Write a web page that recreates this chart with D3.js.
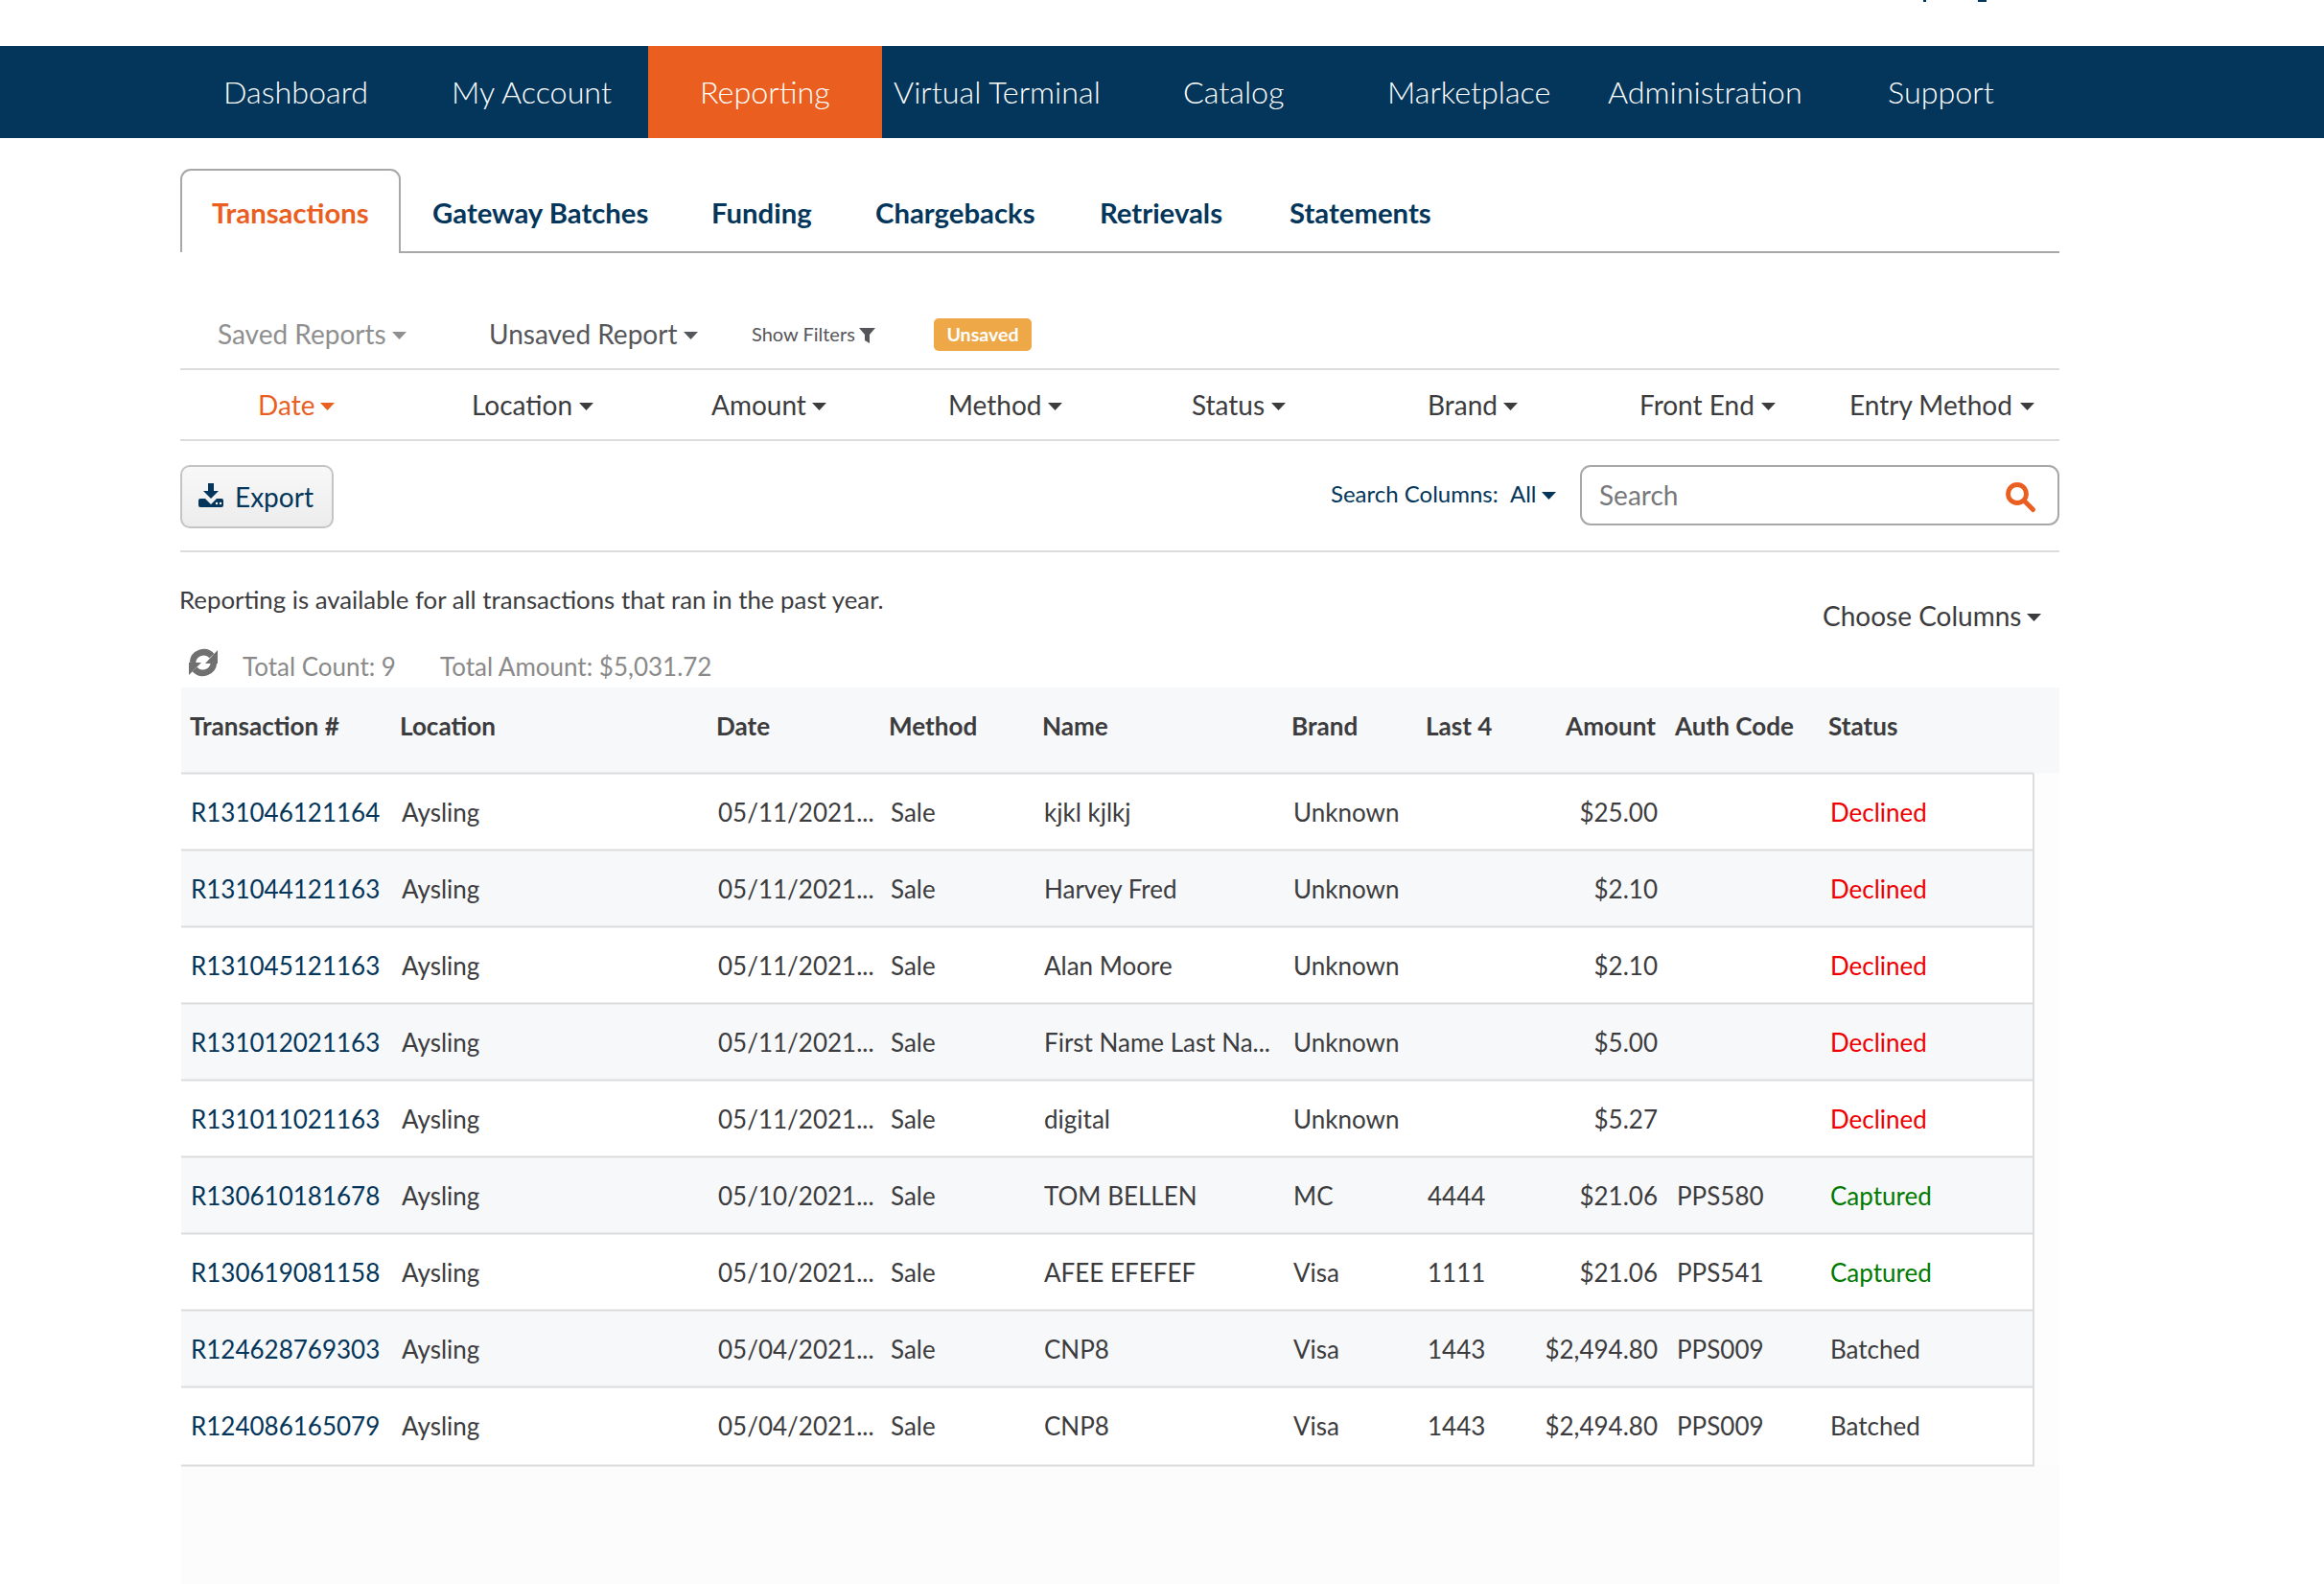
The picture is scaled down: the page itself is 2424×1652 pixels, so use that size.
<!DOCTYPE html>
<html>
<head>
<meta charset="utf-8">
<script src="https://d3js.org/d3.v7.min.js"></script>
<style>
  html, body { margin: 0; padding: 0; background: #fff; }
  svg { display: block; }
  text { font-family: Lato, "Open Sans", sans-serif; }
</style>
</head>
<body>
<div id="page"></div>
<script>
// menu + filter labels
const navItems = ["Dashboard", "My Account", "Reporting", "Virtual Terminal", "Catalog", "Marketplace", "Administration", "Support"];
const tabItems = ["Transactions", "Gateway Batches", "Funding", "Chargebacks", "Retrievals", "Statements"];
const filterItems = ["Date", "Location", "Amount", "Method", "Status", "Brand", "Front End", "Entry Method"];

// table
const columns = ["Transaction #", "Location", "Date", "Method", "Name", "Brand", "Last 4", "Amount", "Auth Code", "Status"];
const transactionIds = ["R131046121164", "R131044121163", "R131045121163", "R131012021163", "R131011021163", "R130610181678", "R130619081158", "R124628769303", "R124086165079"];
const locations = ["Aysling", "Aysling", "Aysling", "Aysling", "Aysling", "Aysling", "Aysling", "Aysling", "Aysling"];
const dates = ["05/11/2021...", "05/11/2021...", "05/11/2021...", "05/11/2021...", "05/11/2021...", "05/10/2021...", "05/10/2021...", "05/04/2021...", "05/04/2021..."];
const methods = ["Sale", "Sale", "Sale", "Sale", "Sale", "Sale", "Sale", "Sale", "Sale"];
const names = ["kjkl kjlkj", "Harvey Fred", "Alan Moore", "First Name Last Na...", "digital", "TOM BELLEN", "AFEE EFEFEF", "CNP8", "CNP8"];
const brands = ["Unknown", "Unknown", "Unknown", "Unknown", "Unknown", "MC", "Visa", "Visa", "Visa"];
const lastFour = ["", "", "", "", "", "4444", "1111", "1443", "1443"];
const amounts = [25.00, 2.10, 2.10, 5.00, 5.27, 21.06, 21.06, 2494.80, 2494.80];
const authCodes = ["", "", "", "", "", "PPS580", "PPS541", "PPS009", "PPS009"];
const statuses = ["Declined", "Declined", "Declined", "Declined", "Declined", "Captured", "Captured", "Batched", "Batched"];

const W = 2424, H = 1652;
const navy = "#03365a", orange = "#ea5f1f", ink = "#3c3c3e", rule = "#dcdcdc";
const statusColor = d3.scaleOrdinal(["Declined", "Captured", "Batched"], ["#f00000", "#007a00", ink]);
const fmtAmount = d3.format("$,.2f");

const svg = d3.select("#page").append("svg").attr("width", W).attr("height", H);

function label(x, y, str, size, fill, opts = {}) {
    return svg.append("text")
        .attr("x", x).attr("y", y).attr("dy", "0.35em")
        .attr("font-size", size)
        .attr("font-weight", opts.weight || 400)
        .attr("text-anchor", opts.anchor || "start")
        .attr("fill", fill)
        .text(str);
}
function rect(x, y, w, h, fill) {
    return svg.append("rect").attr("x", x).attr("y", y).attr("width", w).attr("height", h).attr("fill", fill);
}
function caret(x, y, fill) {
    svg.append("path").attr("d", `M${x},${y - 4}h15l-7.5,8z`).attr("fill", fill);
}

// bits of the cut-off line above the nav bar
rect(2006, 0, 3, 2, navy);
rect(2063, 0, 9, 2, navy);

// nav bar
rect(0, 48, W, 96, navy);
const navX = d3.scaleOrdinal(navItems, [233, 471, 730, 932, 1234, 1447, 1677, 1969]);
rect(676, 48, 244, 96, orange);
navItems.forEach(d => label(navX(d), 96.8, d, 32.3, "#fff", { weight: 300 }));

// tabs
const tabX = d3.scaleOrdinal(tabItems, [221, 451, 742, 913, 1147, 1345]);
svg.append("path")
    .attr("d", "M189,263V187a10,10 0 0 1 10,-10H407a10,10 0 0 1 10,10V263H2148")
    .attr("fill", "none").attr("stroke", "#a8a8a8").attr("stroke-width", 2);
tabItems.forEach((d, i) => label(tabX(d), 222.3, d, 29.3, i === 0 ? orange : navy, { weight: 700 }));

// report toolbar
label(227, 349, "Saved Reports", 28, "#8f8f8f");
caret(409, 350, "#8f8f8f");
label(510, 349, "Unsaved Report", 28, "#55565a");
caret(713, 350, "#55565a");
label(784, 349, "Show Filters", 20, "#55565a");
svg.append("path").attr("d", "M896,342h17l-6,7v9l-5,-3v-6z").attr("fill", "#55565a");
rect(974, 332, 102, 34, "#eea847").attr("rx", 5);
label(1025, 349, "Unsaved", 19.6, "#fff", { weight: 700, anchor: "middle" });

rect(188, 384, 1960, 2, rule);

// filter row
const filterX = d3.scaleOrdinal(filterItems, [269, 492, 742, 989, 1243, 1489, 1710, 1929]);
const filterCaret = d3.scaleOrdinal(filterItems, [334, 604, 847, 1093, 1326, 1568, 1837, 2107]);
filterItems.forEach((d, i) => {
    const c = i === 0 ? orange : ink;
    label(filterX(d), 423.5, d, 28, c);
    caret(filterCaret(d), 424, c);
});
rect(188, 458, 1960, 2, rule);

// export button
const grad = svg.append("defs").append("linearGradient").attr("id", "btn").attr("x2", 0).attr("y2", 1);
grad.append("stop").attr("offset", 0).attr("stop-color", "#f8f8f8");
grad.append("stop").attr("offset", 1).attr("stop-color", "#ececec");
rect(189, 486, 158, 64, "url(#btn)").attr("rx", 9).attr("stroke", "#c4c4c4").attr("stroke-width", 2);
svg.append("path")
    .attr("d", "M217,504h6v8h5l-8,8l-8,-8h5z M207,522q0,-2 2,-2h5l6,6l6,-6h5q2,0 2,2v5q0,2 -2,2h-22q-2,0 -2,-2z")
    .attr("fill", navy);
svg.selectAll("circle.dot").data([226, 230]).enter().append("circle")
    .attr("class", "dot").attr("cx", d => d).attr("cy", 525).attr("r", 1.2).attr("fill", "#fff");
label(245, 519.5, "Export", 28, navy);

// search
label(1388, 516, "Search Columns:", 24, navy);
label(1575, 516, "All", 24, navy);
caret(1608, 517, navy);
rect(1649, 486, 498, 61, "#fff").attr("rx", 10).attr("stroke", "#a8a8a8").attr("stroke-width", 2);
label(1668, 517, "Search", 28, "#77787c");
svg.append("circle").attr("cx", 2104).attr("cy", 515).attr("r", 9.5).attr("fill", "none").attr("stroke", orange).attr("stroke-width", 4.8);
svg.append("path").attr("d", "M2112.5,523.5l8,8").attr("stroke", orange).attr("stroke-width", 5).attr("stroke-linecap", "round");

rect(188, 574, 1960, 2, rule);

label(187, 626, "Reporting is available for all transactions that ran in the past year.", 25.8, ink);
label(1901, 643.5, "Choose Columns", 28, ink);
caret(2114, 644, ink);

// totals
svg.append("path")
    .attr("d", "M201,691A11.5,11.5 0 0 1 221,684").attr("fill", "none").attr("stroke", "#707070").attr("stroke-width", 6.5);
svg.append("path")
    .attr("d", "M223,691A11.5,11.5 0 0 1 203,698").attr("fill", "none").attr("stroke", "#707070").attr("stroke-width", 6.5);
svg.append("path").attr("d", "M227,678V692H214z M197,704V691H210z").attr("fill", "#707070");
label(253, 696, "Total Count: 9", 26, "#8a8a8a");
label(459, 696, "Total Amount: $5,031.72", 26, "#8a8a8a");

// table
const tableLeft = 189, tableRight = 2121, panelRight = 2148;
const headTop = 717, headBottom = 806.5, tableBottom = 1526.5;
const rowIdx = d3.range(transactionIds.length);
const rowY = d3.scaleBand(rowIdx, [headBottom, tableBottom]);
const colHead = d3.scaleOrdinal(columns, [198, 417, 747, 927, 1087, 1347, 1487, 1727, 1747, 1907]);
const colBody = d3.scaleOrdinal(columns, [199, 419, 749, 929, 1089, 1349, 1489, 1729, 1749, 1909]);
// last row sits 2px lower in the reference
const lastRowExtra = i => i === rowIdx.length - 1 ? 2 : 0;

rect(tableLeft, headTop, panelRight - tableLeft, headBottom - headTop, "#f7f8fa");
rect(tableRight, headBottom, panelRight - tableRight, 846, "#fdfdfd");
rect(tableLeft, tableBottom + 2, panelRight - tableLeft, 124, "#fcfcfc");

columns.forEach(c => label(colHead(c), 757.5, c, 26.1, ink, { weight: 700, anchor: c === "Amount" ? "end" : "start" }));

svg.selectAll("rect.row").data(rowIdx).enter().append("rect")
    .attr("class", "row")
    .attr("x", tableLeft)
    .attr("y", i => rowY(i))
    .attr("width", tableRight - tableLeft)
    .attr("height", i => rowY.bandwidth() + lastRowExtra(i))
    .attr("fill", i => i % 2 ? "#f7f8fa" : "#fff");
rect(tableLeft, headBottom - 1, tableRight - tableLeft, 2, rule);
svg.selectAll("rect.rowline").data(rowIdx).enter().append("rect")
    .attr("class", "rowline")
    .attr("x", tableLeft)
    .attr("y", i => rowY(i) + rowY.bandwidth() - 1 + lastRowExtra(i))
    .attr("width", tableRight - tableLeft)
    .attr("height", 2)
    .attr("fill", rule);
rect(tableRight - 1, headBottom, 2, tableBottom - headBottom + 3, rule);

const bodyValues = {
    "Transaction #": i => transactionIds[i],
    "Location": i => locations[i],
    "Date": i => dates[i],
    "Method": i => methods[i],
    "Name": i => names[i],
    "Brand": i => brands[i],
    "Last 4": i => lastFour[i],
    "Amount": i => fmtAmount(amounts[i]),
    "Auth Code": i => authCodes[i],
    "Status": i => statuses[i]
};
rowIdx.forEach(i => {
    const y = rowY(i) + rowY.bandwidth() / 2 + 1.5;
    columns.forEach(c => {
        const fill = c === "Transaction #" ? navy : c === "Status" ? statusColor(statuses[i]) : ink;
        label(colBody(c), y, bodyValues[c](i), 26, fill, { anchor: c === "Amount" ? "end" : "start" });
    });
});
</script>
</body>
</html>
